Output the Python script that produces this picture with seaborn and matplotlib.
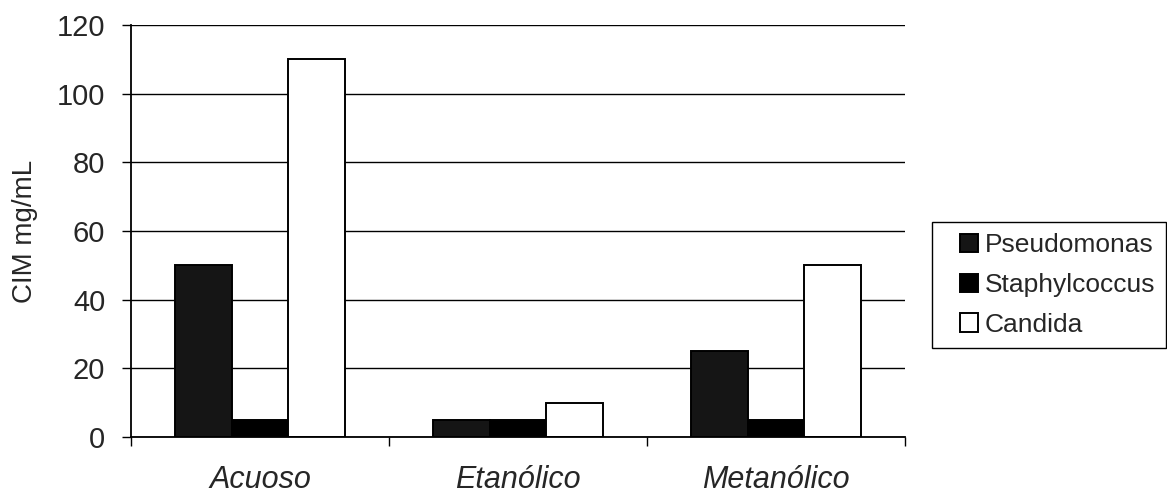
import matplotlib
matplotlib.use("Agg")
import matplotlib.pyplot as plt
import seaborn as sns
import pandas as pd
import numpy as np
from matplotlib.ticker import FixedLocator
from matplotlib.patches import Rectangle

categories = ["Acuoso", "Etanólico", "Metanólico"]
series = ["Pseudomonas", "Staphylcoccus", "Candida"]
pseudomonas = [50, 5, 25]
staphylococcus = [5, 5, 5]
candida = [110, 10, 50]
colors = ["#151515", "#000000", "#ffffff"]

df = pd.DataFrame({
    "cat": categories * 3,
    "serie": [series[0]] * 3 + [series[1]] * 3 + [series[2]] * 3,
    "val": pseudomonas + staphylococcus + candida,
})

sns.set_theme(style="white")
plt.rcParams["font.family"] = ["Liberation Sans", "DejaVu Sans"]

W, H = 1167, 496
fig = plt.figure(figsize=(W / 100, H / 100), dpi=100)
ax = fig.add_axes([131 / W, 59 / H, 774 / W, 412 / H])

sns.barplot(data=df, x="cat", y="val", hue="serie", order=categories,
            hue_order=series, palette=colors, edgecolor="black",
            linewidth=1.4, width=0.66, ax=ax, legend=True, saturation=1)

ax.set_ylim(0, 120)
ax.set_xlim(-0.5, 2.5)
ax.set_yticks(range(0, 121, 20))
ax.yaxis.grid(True, color="black", linewidth=1)
ax.set_axisbelow(True)
for s in ["top", "right"]:
    ax.spines[s].set_visible(False)
ax.spines["left"].set_color("black")
ax.spines["bottom"].set_color("black")
ax.spines["left"].set_linewidth(1.3)
ax.spines["bottom"].set_linewidth(1.3)

ax.tick_params(axis="y", which="major", direction="out", length=6.5, width=1,
               color="black", labelsize=21, pad=12, left=True)
ax.tick_params(axis="x", which="major", length=0, labelsize=22, pad=20)
ax.xaxis.set_minor_locator(FixedLocator([-0.5, 0.5, 1.5, 2.5]))
ax.tick_params(axis="x", which="minor", direction="out", length=6.5, width=1,
               color="black", bottom=True)
for lbl in ax.get_xticklabels():
    lbl.set_fontstyle("italic")
ax.set_xlabel("")
ax.set_ylabel("CIM mg/mL", fontsize=20)
ax.yaxis.set_label_coords((38 - 131) / 774, 0.5)

handles, labels = ax.get_legend_handles_labels()
ax.legend(handles, labels, loc="center left",
          bbox_to_anchor=(960 / W, (H - 285) / H), bbox_transform=fig.transFigure,
          frameon=False, fontsize=19,
          handlelength=0.7, handleheight=0.7, handletextpad=0.25,
          labelspacing=0.6, borderpad=0, borderaxespad=0)
fig.patches.append(Rectangle((932 / W, (H - 348) / H), 234 / W, 126 / H,
                             transform=fig.transFigure, fill=False,
                             edgecolor="black", linewidth=1))

fig.savefig("out.png", dpi=100, facecolor="white")
